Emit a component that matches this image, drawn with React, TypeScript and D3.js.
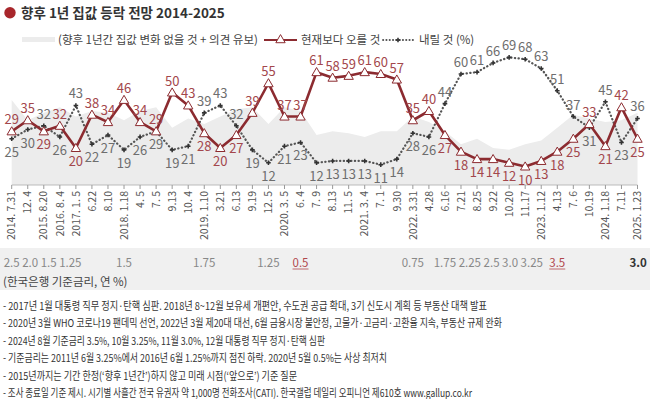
import React from 'react';
import * as d3 from 'd3';

// survey end dates (x categories)
const dates = [
  '2014. 7.31', '12. 4', '2015. 8.20', '2016. 8. 4', '2017. 1. 5', '6.22', '8.10',
  '2018. 1.18', '4. 5', '7. 5', '9.13', '10. 4', '2019. 1.10', '3.21', '6.13', '9.19',
  '12. 5', '2020. 3. 5', '6. 4', '7. 9', '8.13', '11. 5', '2021. 3. 4', '7. 1', '9.30',
  '2022. 3.31', '4.28', '6.16', '7.21', '8.25', '9.22', '10.20', '11.17', '2023. 1.12',
  '4.13', '7. 6', '10.19', '2024. 1.18', '7.11', '2025. 1.23',
];

// 현재보다 오를 것 (%)
const rise = [29, 35, 29, 32, 20, 38, 34, 46, 34, 29, 50, 43, 28, 20, 27, 39, 55, 37, 37, 61,
  58, 59, 61, 60, 57, 35, 40, 27, 18, 14, 14, 12, 10, 13, 18, 25, 33, 21, 42, 25];

// 내릴 것 (%)
const fall = [25, 30, 32, 26, 43, 22, 27, 19, 26, 29, 19, 21, 39, 43, 32, 19, 12, 21, 23, 12,
  13, 13, 13, 11, 14, 28, 26, 44, 60, 61, 66, 69, 68, 63, 51, 37, 31, 45, 23, 36];

// 변화 없을 것 + 의견 유보 (%)
const noChange = [46, 35, 39, 42, 37, 40, 39, 35, 40, 42, 31, 36, 33, 37, 41, 42, 33, 42, 40, 27,
  29, 28, 26, 29, 29, 37, 34, 29, 22, 25, 20, 19, 22, 24, 31, 38, 36, 34, 35, 39];

// 한국은행 기준금리 labels, placed under the survey where the rate applied
const rateIdx = [0, 1, 2, 3, 7, 12, 16, 18, 25, 27, 28, 29, 31, 32, 34, 39];
const rateVal = ['2.5', '2.0', '1.5', '1.25', '1.5', '1.75', '1.25', '0.5', '0.75', '1.75',
  '2.25', '2.5', '3.0', '3.25', '3.5', '3.0'];
const rateMarked = ['0.5', '3.5']; // record low / recent high, underlined

const notes = [
  '- 2017년 1월 대통령 직무 정지·탄핵 심판. 2018년 8~12월 보유세 개편안, 수도권 공급 확대, 3기 신도시 계획 등 부동산 대책 발표',
  '- 2020년 3월 WHO 코로나19 팬데믹 선언, 2022년 3월 제20대 대선, 6월 금융시장 불안정, 고물가·고금리·고환율 지속, 부동산 규제 완화',
  '- 2024년 8월 기준금리 3.5%, 10월 3.25%, 11월 3.0%, 12월 대통령 직무 정지·탄핵 심판',
  '- 기준금리는 2011년 6월 3.25%에서 2016년 6월 1.25%까지 점진 하락. 2020년 5월 0.5%는 사상 최저치',
  '- 2015년까지는 기간 한정(‘향후 1년간’)하지 않고 미래 시점(‘앞으로’) 기준 질문',
  '- 조사 종료일 기준 제시. 시기별 사흘간 전국 유권자 약 1,000명 전화조사(CATI). 한국갤럽 데일리 오피니언 제610호 www.gallup.co.kr',
];
const noteWidths = [484, 499, 322, 384, 294, 469];

const W = 650;
const H = 399;
const FONT = '"Noto Sans CJK KR", "Noto Sans", sans-serif';
const RED = '#8c2b30';
const RED_TXT = '#a3474c';
const GREY = '#555';
const GREY_TXT = '#6e6e6e';

const App = () => {
  const idx = d3.range(dates.length);
  const x = d3.scalePoint<number>().domain(idx).range([11.7, 637.5]);
  const y = d3.scaleLinear().domain([0, 100]).range([185, 0]);

  const area = d3.area<number>()
    .x(i => x(i)!)
    .y0(y(0))
    .y1(i => y(noChange[i]));
  const riseLine = d3.line<number>().x(i => x(i)!).y(i => y(rise[i]));
  const fallLine = d3.line<number>().x(i => x(i)!).y(i => y(fall[i]));
  const tri = d3.symbol().type(d3.symbolTriangle).size(38)()!;
  const cross = d3.symbol().type(d3.symbolCross).size(12)()!;

  // rate labels: centred on their tick, pushed right if they would collide
  const rateFs = 11.5;
  const textW = (s: string) =>
    s.split('').reduce((a, c) => a + (c === '.' ? 0.27 : 0.56), 0) * rateFs;
  let prevEnd = -Infinity;
  const rates = rateIdx.map((k, j) => {
    const w = textW(rateVal[j]);
    let left = x(k)! - w / 2;
    if (left < prevEnd + 2.5) left = prevEnd + 2.5;
    prevEnd = left + w;
    return { left, w, v: rateVal[j], last: j === rateIdx.length - 1 };
  });

  return (
    <svg width={W} height={H} style={{ position: 'absolute', left: 0, top: 0, background: '#fff' }}
      fontFamily={FONT}>
      {/* title */}
      <circle cx={10} cy={12.7} r={5.7} fill="#a8262b" />
      <text x={21} y={17.8} fontSize={13.5} fontWeight="bold" fill="#333">향후 1년 집값 등락 전망 2014-2025</text>

      {/* legend */}
      <g fontSize={11.5} fill="#444">
        <rect x={22} y={37} width={33} height={5} fill="#ececec" />
        <text x={58} y={43.5}>(향후 1년간 집값 변화 없을 것 + 의견 유보)</text>
        <line x1={264} x2={297} y1={40} y2={40} stroke={RED} strokeWidth={2.2} />
        <path d={tri} transform="translate(280.5,40)" fill="#fff" stroke={RED} strokeWidth={1} />
        <text x={301} y={43.5}>현재보다 오를 것</text>
        <line x1={383} x2={413} y1={40} y2={40} stroke={GREY} strokeWidth={1.8}
          strokeDasharray="0.3 3" strokeLinecap="round" />
        <path d={cross} transform="translate(398,40)" fill="#333" />
        <text x={419} y={43.5}>내릴 것 (%)</text>
      </g>

      {/* no-change area */}
      <path d={area(idx)!} fill="#ececec" />

      {/* x axis */}
      <line x1={x(0)} x2={x(idx.length - 1)} y1={y(0)} y2={y(0)} stroke="#bbb" strokeWidth={1} />
      {idx.map(i => (
        <line key={'t' + i} x1={x(i)} x2={x(i)} y1={y(0)} y2={y(0) + 4} stroke="#999" strokeWidth={1} />
      ))}
      {idx.map(i => (
        <text key={'d' + i} transform={`translate(${x(i)! + 3.7},${y(0) + 6}) rotate(-90)`}
          textAnchor="end" fontSize={10.5} fill="#555">{dates[i]}</text>
      ))}

      {/* lines */}
      <path d={fallLine(idx)!} fill="none" stroke={GREY} strokeWidth={2.2}
        strokeDasharray="0.3 3.4" strokeLinecap="round" />
      <path d={riseLine(idx)!} fill="none" stroke={RED} strokeWidth={2.6} strokeLinejoin="round" />
      {idx.map(i => (
        <path key={'c' + i} d={cross} transform={`translate(${x(i)},${y(fall[i])})`} fill="#333" />
      ))}
      {idx.map(i => (
        <path key={'m' + i} d={tri} transform={`translate(${x(i)},${y(rise[i]) + 0.8})`}
          fill="#fff" stroke={RED} strokeWidth={1} />
      ))}

      {/* value labels: the higher series above, the lower below */}
      <g fontSize={13} textAnchor="middle">
        {idx.map(i => {
          const riseUp = rise[i] >= fall[i];
          return (
            <g key={'l' + i}>
              <text x={x(i)} y={y(rise[i]) + (riseUp ? -7 : 18)} fill={RED_TXT}>{rise[i]}</text>
              <text x={x(i)} y={y(fall[i]) + (riseUp ? 18 : -7)} fill={GREY_TXT}>{fall[i]}</text>
            </g>
          );
        })}
      </g>

      {/* base rate band */}
      <rect x={0} y={248} width={W} height={42} fill="#f0f0f0" />
      {rates.map((r, j) => {
        const hl = rateMarked.includes(r.v);
        return (
          <g key={'r' + j}>
            <text x={r.left} y={266.5} fontSize={rateFs}
              fill={r.last ? '#333' : hl ? '#b0474c' : '#888'} fontWeight={r.last ? 'bold' : 'normal'}>{r.v}</text>
            {hl && <line x1={r.left} x2={r.left + r.w} y1={269} y2={269} stroke="#b0474c" strokeWidth={0.8} />}
          </g>
        );
      })}
      <text x={3} y={286} fontSize={11.5} fill="#444">(한국은행 기준금리, 연 %)</text>

      {/* notes */}
      <g fontSize={11} fill="#333">
        {notes.map((n, i) => (
          <text key={'n' + i} x={3} y={309.5 + i * 17.5} textLength={noteWidths[i]}
            lengthAdjust="spacingAndGlyphs">{n}</text>
        ))}
      </g>
    </svg>
  );
};

export default App;
